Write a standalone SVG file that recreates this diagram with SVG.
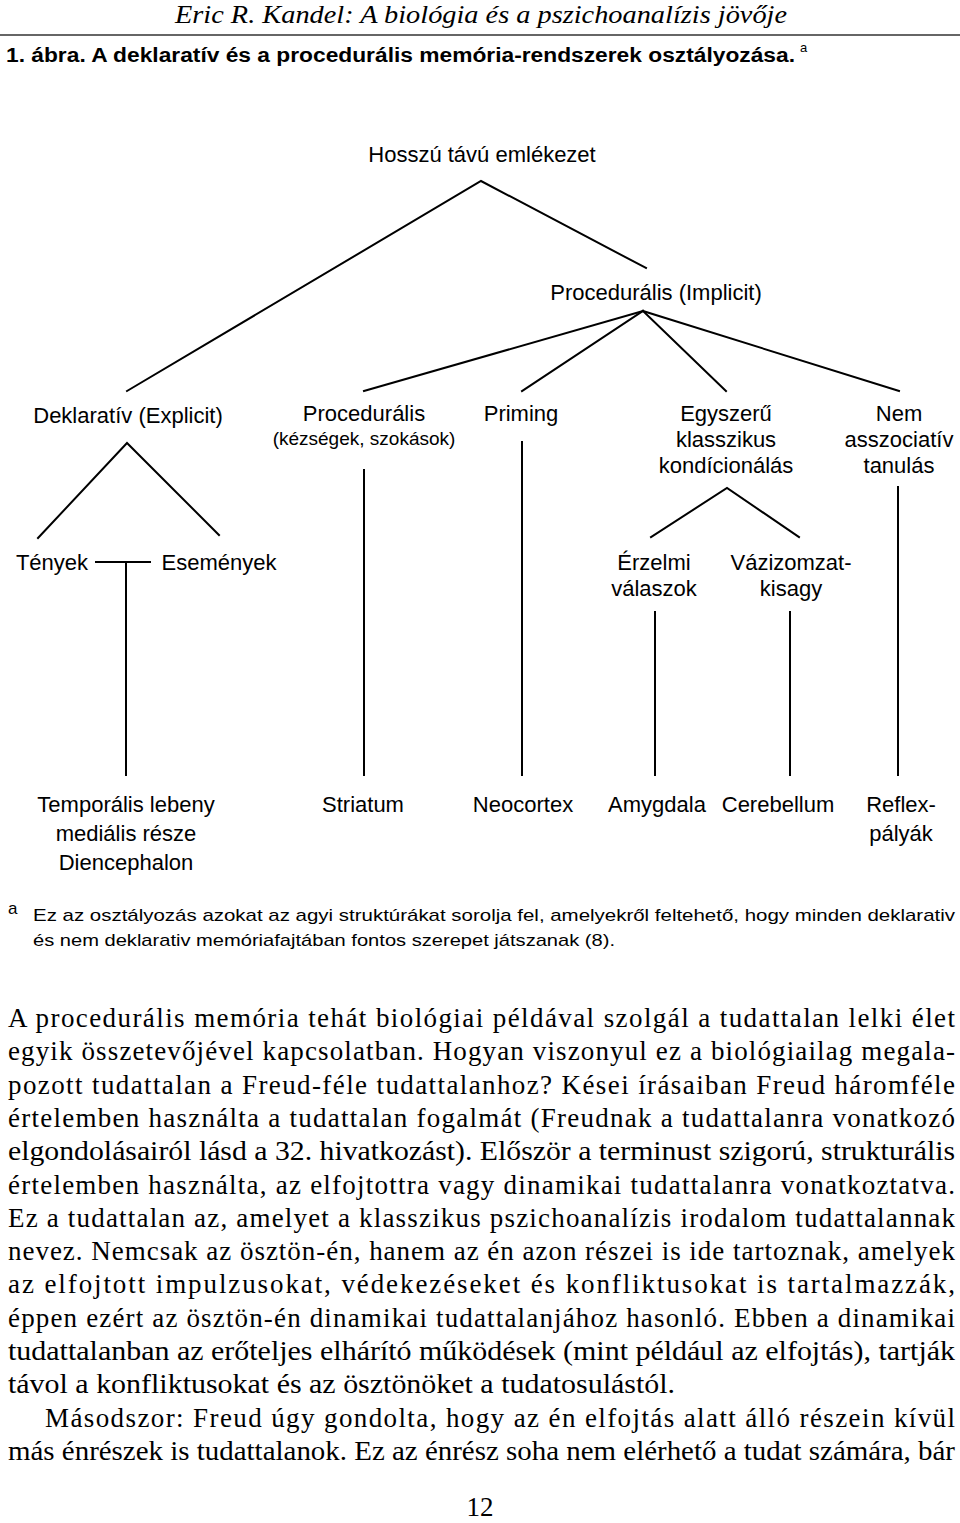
<svg xmlns="http://www.w3.org/2000/svg" width="960" height="1523" viewBox="0 0 960 1523">
<style>
.lbl{font-family:"Liberation Sans",Arial,sans-serif;font-size:22px;fill:#000;text-anchor:middle}
.sm{font-size:19px}
.ln{stroke:#000;stroke-width:2;fill:none;stroke-linecap:square}
.body{font-family:"Liberation Serif","Times New Roman",serif;font-size:27px;fill:#000}
.foot{font-family:"Liberation Sans",Arial,sans-serif;font-size:17px;fill:#000}
</style>
<rect width="960" height="1523" fill="#fff"/>
<g id="header">
<text x="481" y="23" font-family="Liberation Serif,serif" font-style="italic" font-size="25" text-anchor="middle" textLength="612" lengthAdjust="spacingAndGlyphs">Eric R. Kandel: A biológia és a pszichoanalízis jövője</text>
<line x1="0" y1="35" x2="960" y2="35" stroke="#666" stroke-width="2"/>
<text x="6" y="62" font-family="Liberation Sans,Arial,sans-serif" font-weight="bold" font-size="20" textLength="789" lengthAdjust="spacingAndGlyphs">1. ábra. A deklaratív és a procedurális memória-rendszerek osztályozása.</text>
<text x="800" y="52" font-family="Liberation Sans,Arial,sans-serif" font-size="13">a</text>
</g>
<g id="connectors">
<polyline class="ln" points="127,391 481,181 646,268"/>
<line class="ln" x1="643" y1="311" x2="364" y2="391"/>
<line class="ln" x1="643" y1="311" x2="522" y2="391"/>
<line class="ln" x1="643" y1="311" x2="726" y2="391"/>
<line class="ln" x1="643" y1="311" x2="899" y2="391"/>
<polyline class="ln" points="38,538 127,443 219,535"/>
<line class="ln" x1="96" y1="562" x2="150" y2="562"/>
<line class="ln" x1="126" y1="562" x2="126" y2="775"/>
<line class="ln" x1="364" y1="470" x2="364" y2="775"/>
<line class="ln" x1="522" y1="442" x2="522" y2="775"/>
<line class="ln" x1="898" y1="487" x2="898" y2="775"/>
<polyline class="ln" points="651,537 727,488 799,537"/>
<line class="ln" x1="655" y1="612" x2="655" y2="775"/>
<line class="ln" x1="790" y1="612" x2="790" y2="775"/>
</g>
<g id="n-hosszu"><text class="lbl" x="482" y="162">Hosszú távú emlékezet</text></g>
<g id="n-implicit"><text class="lbl" x="656" y="300">Procedurális (Implicit)</text></g>
<g id="n-deklarativ"><text class="lbl" x="128" y="423">Deklaratív (Explicit)</text></g>
<g id="n-proceduralis"><text class="lbl" x="364" y="421">Procedurális</text><text class="lbl sm" x="364" y="445">(kézségek, szokások)</text></g>
<g id="n-priming"><text class="lbl" x="521" y="421">Priming</text></g>
<g id="n-egyszeru"><text class="lbl" x="726" y="421">Egyszerű</text><text class="lbl" x="726" y="447">klasszikus</text><text class="lbl" x="726" y="473">kondícionálás</text></g>
<g id="n-nem"><text class="lbl" x="899" y="421">Nem</text><text class="lbl" x="899" y="447">asszociatív</text><text class="lbl" x="899" y="473">tanulás</text></g>
<g id="n-tenyek"><text class="lbl" x="52" y="570">Tények</text></g>
<g id="n-esemenyek"><text class="lbl" x="219" y="570">Események</text></g>
<g id="n-erzelmi"><text class="lbl" x="654" y="570">Érzelmi</text><text class="lbl" x="654" y="596">válaszok</text></g>
<g id="n-vazizom"><text class="lbl" x="791" y="570">Vázizomzat-</text><text class="lbl" x="791" y="596">kisagy</text></g>
<g id="n-temporalis"><text class="lbl" x="126" y="812">Temporális lebeny</text><text class="lbl" x="126" y="841">mediális része</text><text class="lbl" x="126" y="870">Diencephalon</text></g>
<g id="n-striatum"><text class="lbl" x="363" y="812">Striatum</text></g>
<g id="n-neocortex"><text class="lbl" x="523" y="812">Neocortex</text></g>
<g id="n-amygdala"><text class="lbl" x="657" y="812">Amygdala</text></g>
<g id="n-cerebellum"><text class="lbl" x="778" y="812">Cerebellum</text></g>
<g id="n-reflex"><text class="lbl" x="901" y="812">Reflex-</text><text class="lbl" x="901" y="841">pályák</text></g>
<g id="footnote">
<text class="foot" x="8" y="914" font-size="13">a</text>
<text class="foot" x="33" y="921" textLength="922" lengthAdjust="spacingAndGlyphs">Ez az osztályozás azokat az agyi struktúrákat sorolja fel,  amelyekről feltehető, hogy minden deklarativ</text>
<text class="foot" x="33" y="946" textLength="582" lengthAdjust="spacingAndGlyphs">és nem deklarativ memóriafajtában fontos szerepet játszanak (8).</text>
</g>
<g id="bodytext">
<text class="body" x="8" y="1027" textLength="947" lengthAdjust="spacing">A procedurális memória tehát biológiai példával szolgál a tudattalan lelki élet</text>
<text class="body" x="8" y="1060" textLength="947" lengthAdjust="spacing">egyik összetevőjével kapcsolatban. Hogyan viszonyul ez a biológiailag megala-</text>
<text class="body" x="8" y="1094" textLength="947" lengthAdjust="spacing">pozott tudattalan a Freud-féle tudattalanhoz? Kései írásaiban Freud háromféle</text>
<text class="body" x="8" y="1127" textLength="947" lengthAdjust="spacing">értelemben használta a tudattalan fogalmát (Freudnak a tudattalanra vonatkozó</text>
<text class="body" x="8" y="1160" textLength="947" lengthAdjust="spacingAndGlyphs">elgondolásairól lásd a 32. hivatkozást). Először a terminust szigorú, strukturális</text>
<text class="body" x="8" y="1194" textLength="947" lengthAdjust="spacing">értelemben használta, az elfojtottra vagy dinamikai tudattalanra vonatkoztatva.</text>
<text class="body" x="8" y="1227" textLength="947" lengthAdjust="spacing">Ez a tudattalan az, amelyet a klasszikus pszichoanalízis irodalom tudattalannak</text>
<text class="body" x="8" y="1260" textLength="947" lengthAdjust="spacing">nevez. Nemcsak az ösztön-én, hanem az én azon részei is ide tartoznak, amelyek</text>
<text class="body" x="8" y="1293" textLength="947" lengthAdjust="spacing">az elfojtott impulzusokat, védekezéseket és konfliktusokat is tartalmazzák,</text>
<text class="body" x="8" y="1327" textLength="947" lengthAdjust="spacing">éppen ezért az ösztön-én dinamikai tudattalanjához hasonló. Ebben a dinamikai</text>
<text class="body" x="8" y="1360" textLength="947" lengthAdjust="spacingAndGlyphs">tudattalanban az erőteljes elhárító működések (mint például az elfojtás), tartják</text>
<text class="body" x="8" y="1393" textLength="667" lengthAdjust="spacingAndGlyphs">távol a konfliktusokat és az ösztönöket a tudatosulástól.</text>
<text class="body" x="45" y="1427" textLength="910" lengthAdjust="spacing">Másodszor: Freud úgy gondolta, hogy az én elfojtás alatt álló részein kívül</text>
<text class="body" x="8" y="1460" textLength="947" lengthAdjust="spacingAndGlyphs">más énrészek is tudattalanok. Ez az énrész soha nem elérhető a tudat számára, bár</text>
<text class="body" x="480" y="1516" text-anchor="middle">12</text>
</g>
</svg>
